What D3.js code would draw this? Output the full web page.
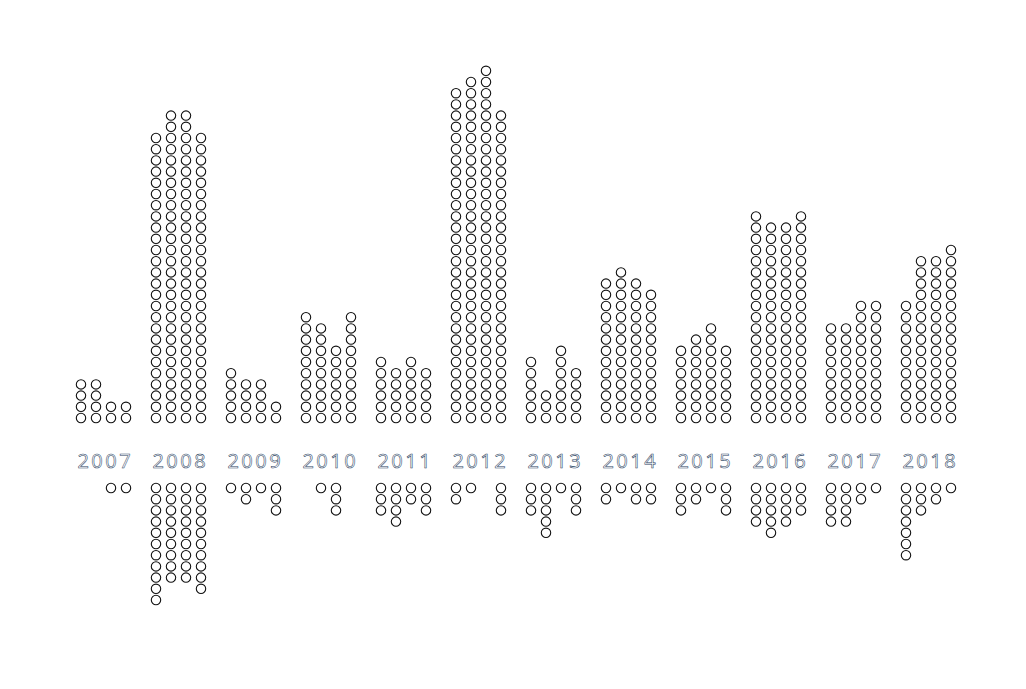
<!DOCTYPE html>
<html>
<head>
<meta charset="utf-8">
<script src="https://cdn.jsdelivr.net/npm/d3@7"></script>
<style>
  html, body { margin: 0; padding: 0; background: #fff; }
  svg { display: block; }
</style>
</head>
<body>
<svg id="chart" width="1026" height="689"></svg>
<script>
// ---- data ----
const years = ["2007","2008","2009","2010","2011","2012","2013","2014","2015","2016","2017","2018"];
const quarters = [0, 1, 2, 3];
// dots stacked above the year label, one value per quarter column
const upperCounts = [
  [4, 4, 2, 2],
  [26, 28, 28, 26],
  [5, 4, 4, 2],
  [10, 9, 7, 10],
  [6, 5, 6, 5],
  [30, 31, 32, 28],
  [6, 3, 7, 5],
  [13, 14, 13, 12],
  [7, 8, 9, 7],
  [19, 18, 18, 19],
  [9, 9, 11, 11],
  [11, 15, 15, 16]
];
// dots hanging below the year label
const lowerCounts = [
  [0, 0, 1, 1],
  [11, 9, 9, 10],
  [1, 2, 1, 3],
  [0, 1, 3, 0],
  [3, 4, 2, 3],
  [2, 1, 0, 3],
  [3, 5, 1, 3],
  [2, 1, 2, 2],
  [3, 2, 1, 3],
  [4, 5, 4, 3],
  [4, 4, 2, 1],
  [7, 3, 2, 1]
];

// ---- layout ----
const svg = d3.select("#chart");
const x = d3.scaleBand().domain(years).range([66, 966]).padding(0);
const xq = d3.scalePoint().domain(quarters).range([15, 60]);
const step = 11.2;
const yUp = d3.scaleLinear().domain([0, 1]).range([418, 418 - step]);
const yDown = d3.scaleLinear().domain([0, 1]).range([488, 488 + step]);
const r = 4.7;

function expand(counts) {
  const pts = [];
  years.forEach((yr, i) => {
    quarters.forEach(q => {
      for (let k = 0; k < counts[i][q]; k++) pts.push({ yr, q, k });
    });
  });
  return pts;
}

const g = svg.append("g");

g.selectAll("circle.up")
  .data(expand(upperCounts))
  .join("circle")
  .attr("class", "up")
  .attr("cx", d => x(d.yr) + xq(d.q))
  .attr("cy", d => yUp(d.k))
  .attr("r", r)
  .attr("fill", "#fff")
  .attr("stroke", "#111")
  .attr("stroke-width", 1.1);

g.selectAll("circle.down")
  .data(expand(lowerCounts))
  .join("circle")
  .attr("class", "down")
  .attr("cx", d => x(d.yr) + xq(d.q))
  .attr("cy", d => yDown(d.k))
  .attr("r", r)
  .attr("fill", "#fff")
  .attr("stroke", "#111")
  .attr("stroke-width", 1.1);

g.selectAll("text.year")
  .data(years)
  .join("text")
  .attr("class", "year")
  .attr("x", d => x(d) + x.bandwidth() / 2 + 1.8)
  .attr("y", 467.5)
  .attr("text-anchor", "middle")
  .attr("font-family", "'Open Sans', sans-serif")
  .attr("font-size", 20)
  .attr("letter-spacing", "2.5px")
  .attr("fill", "#fff")
  .attr("stroke", "#2a3f5f")
  .attr("stroke-width", 0.55)
  .text(d => d);
</script>
</body>
</html>
